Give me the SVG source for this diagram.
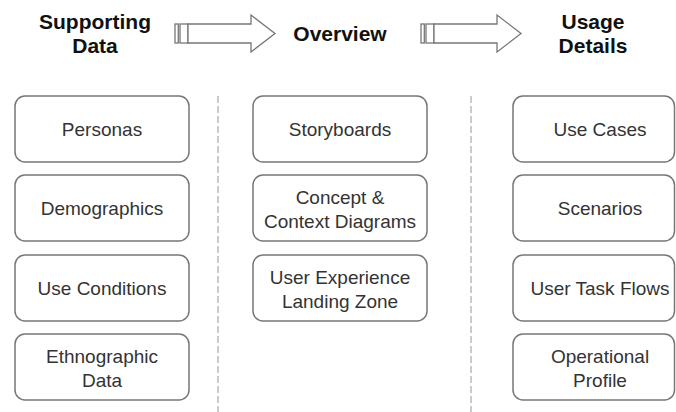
<svg xmlns="http://www.w3.org/2000/svg" width="676" height="412" viewBox="0 0 676 412">
<style>
.hd{font-family:"Liberation Sans",Arial,sans-serif;font-weight:bold;font-size:21px;fill:#111;text-anchor:middle}
.bx rect{fill:#fff;stroke:#777;stroke-width:1.5}
.bx text{font-family:"Liberation Sans",Arial,sans-serif;font-size:19px;fill:#333;text-anchor:middle}
.sep{stroke:#bbb;stroke-width:1.5;stroke-dasharray:7 3;fill:none}
.arr{fill:#fff;stroke:#777;stroke-width:1.3}
</style>
<defs>
<g id="bigArrow">
<rect class="arr" x="0" y="-9.5" width="3.3" height="19"/>
<rect class="arr" x="5" y="-9.5" width="8" height="19"/>
<path class="arr" d="M13,-9.5 L76,-9.5 L76,-18.5 L100,0 L76,18.5 L76,9.5 L13,9.5 Z"/>
</g>
</defs>
<g id="headers">
<text class="hd" x="95" y="29">Supporting</text>
<text class="hd" x="95" y="53">Data</text>
<text class="hd" x="340" y="41">Overview</text>
<text class="hd" x="593" y="29">Usage</text>
<text class="hd" x="593" y="53">Details</text>
</g>
<g id="connectors">
<use href="#bigArrow" x="175" y="33.5"/>
<use href="#bigArrow" x="421" y="33.5"/>
<line class="sep" x1="218" y1="96" x2="218" y2="412"/>
<line class="sep" x1="471" y1="96" x2="471" y2="412"/>
</g>
<g id="personas" class="bx"><rect x="15" y="96" width="174" height="66" rx="10"/><text x="102" y="136">Personas</text></g>
<g id="demographics" class="bx"><rect x="15" y="175" width="174" height="66" rx="10"/><text x="102" y="215">Demographics</text></g>
<g id="use-conditions" class="bx"><rect x="15" y="255" width="174" height="66" rx="10"/><text x="102" y="295">Use Conditions</text></g>
<g id="ethnographic-data" class="bx"><rect x="15" y="334" width="174" height="66" rx="10"/><text x="102" y="362.5">Ethnographic</text><text x="102" y="386.5">Data</text></g>
<g id="storyboards" class="bx"><rect x="253" y="96" width="174" height="66" rx="10"/><text x="340" y="136">Storyboards</text></g>
<g id="concept-context" class="bx"><rect x="253" y="175" width="174" height="66" rx="10"/><text x="340" y="203.5">Concept &amp;</text><text x="340" y="227.5">Context Diagrams</text></g>
<g id="ux-landing-zone" class="bx"><rect x="253" y="255" width="174" height="66" rx="10"/><text x="340" y="283.5">User Experience</text><text x="340" y="307.5">Landing Zone</text></g>
<g id="use-cases" class="bx"><rect x="513" y="96" width="161.5" height="66" rx="10"/><text x="600" y="136">Use Cases</text></g>
<g id="scenarios" class="bx"><rect x="513" y="175" width="161.5" height="66" rx="10"/><text x="600" y="215">Scenarios</text></g>
<g id="user-task-flows" class="bx"><rect x="513" y="255" width="161.5" height="66" rx="10"/><text x="600" y="295">User Task Flows</text></g>
<g id="operational-profile" class="bx"><rect x="513" y="334" width="161.5" height="66" rx="10"/><text x="600" y="362.5">Operational</text><text x="600" y="386.5">Profile</text></g>
</svg>
